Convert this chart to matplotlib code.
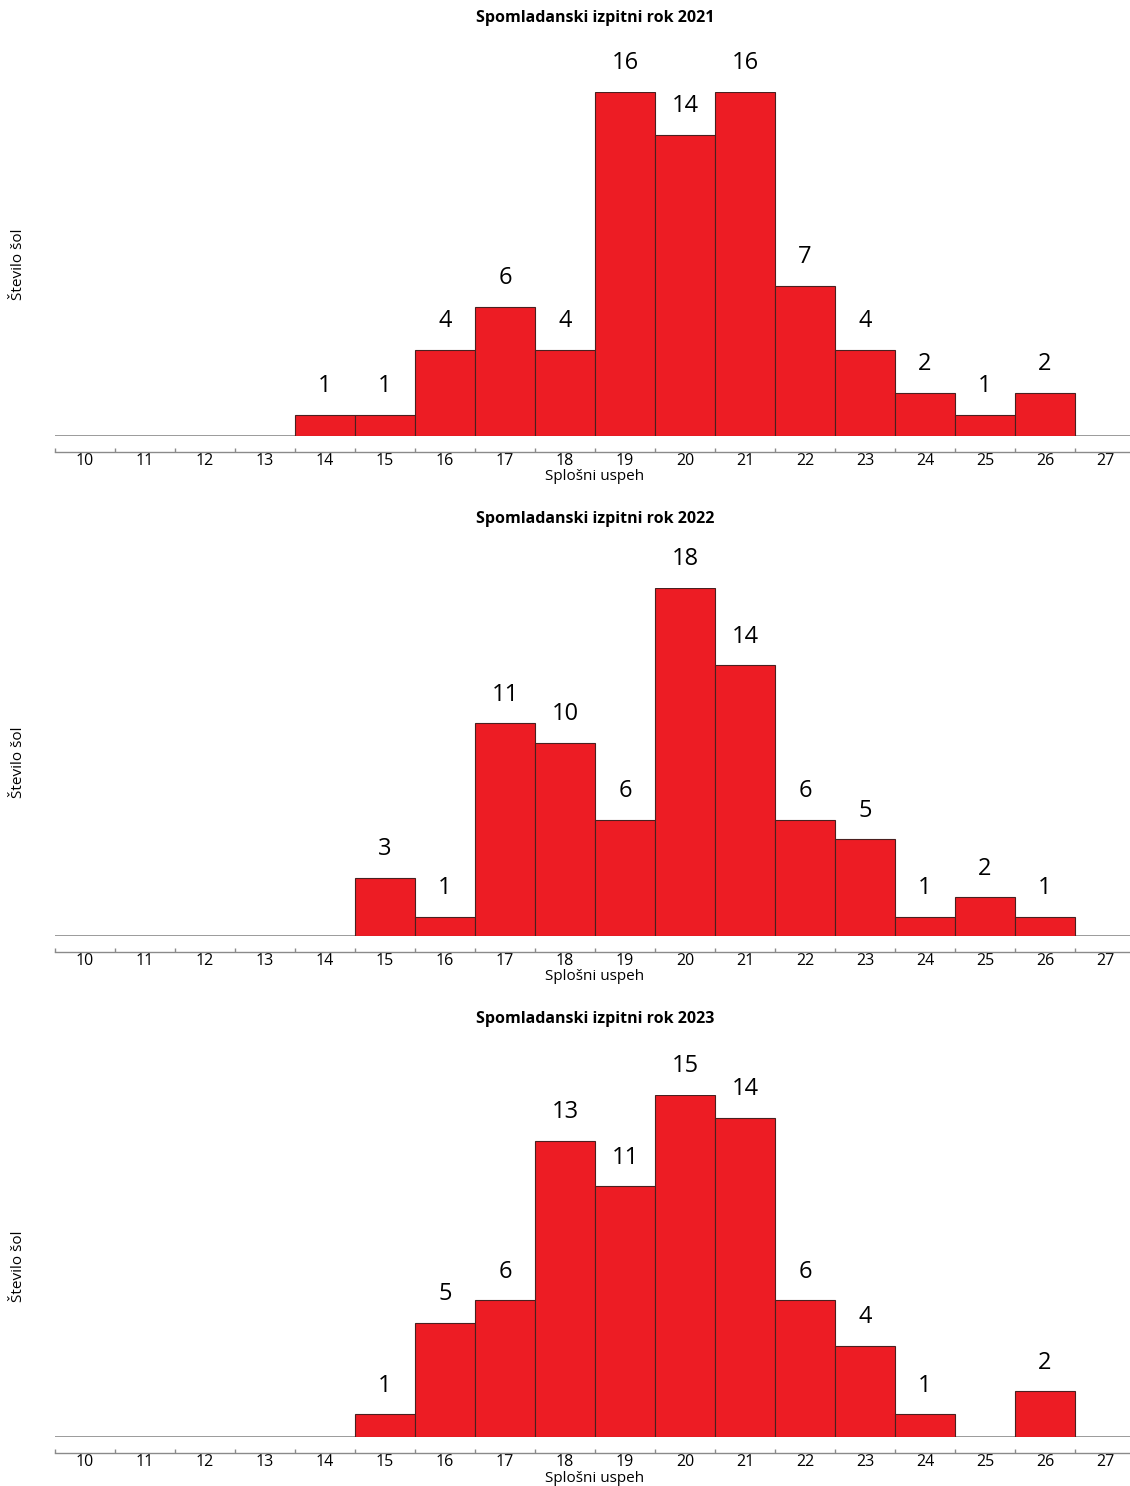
import matplotlib.pyplot as plt
import numpy as np

plt.rcParams["font.family"] = ["Open Sans", "DejaVu Sans"]

# grade categories (Splošni uspeh)
grades = list(range(10, 28))

years = ["2021", "2022", "2023"]
counts_2021 = [0, 0, 0, 0, 1, 1, 4, 6, 4, 16, 14, 16, 7, 4, 2, 1, 2, 0]
counts_2022 = [0, 0, 0, 0, 0, 3, 1, 11, 10, 6, 18, 14, 6, 5, 1, 2, 1, 0]
counts_2023 = [0, 0, 0, 0, 0, 1, 5, 6, 13, 11, 15, 14, 6, 4, 1, 0, 2, 0]
all_counts = [counts_2021, counts_2022, counts_2023]

W, H = 1130, 1486
fig = plt.figure(figsize=(W / 100, H / 100), dpi=100)

# pixel layout of each panel: (baseline y, top y, title y)
panels = [(436, 92, 18), (936, 588, 519), (1437, 1095, 1019)]
left_px, right_px = 55, 1130
bar_red = "#ED1C24"
edge = "#4a2020"
grey = "#8a8a8a"

for year, counts, (base, top, ty) in zip(years, all_counts, panels):
    ax = fig.add_axes([left_px / W, 1 - base / H, (right_px - left_px) / W, (base - top) / H])
    x = np.array(grades)
    c = np.array(counts)
    mask = c > 0
    ax.bar(x[mask], c[mask], width=1.0, color=bar_red, edgecolor=edge, linewidth=0.8, zorder=3)
    for xi, ci in zip(x[mask], c[mask]):
        ax.annotate(str(ci), (xi, ci), xytext=(0, 12), textcoords="offset points",
                    ha="center", va="bottom", fontsize=17, clip_on=False)
    ax.set_xlim(9.5, 9.5 + (right_px - left_px) / 60)
    ax.set_ylim(0, max(counts))
    ax.axhline(0, color=grey, lw=1.2, zorder=2)

    for s in ["top", "left", "right"]:
        ax.spines[s].set_visible(False)
    ax.spines["bottom"].set_position(("outward", 11.5))
    ax.spines["bottom"].set_color(grey)
    ax.spines["bottom"].set_linewidth(1.0)
    ax.set_yticks([])
    ax.set_xticks(grades)
    ax.set_xticklabels([str(g) for g in grades])
    ax.set_xticks(np.arange(9.5, 27.0, 1.0), minor=True)
    ax.tick_params(axis="x", which="major", length=0, pad=0.5, labelsize=11.5)
    ax.tick_params(axis="x", which="minor", direction="in", length=3, width=1, color=grey)

    fig.text(0.5 * (left_px + 1135) / W, 1 - ty / H, "Spomladanski izpitni rok " + year,
             ha="center", va="center", fontsize=11.5, fontweight="bold")
    fig.text(595 / W, 1 - (base + 41) / H, "Splošni uspeh", ha="center", va="center", fontsize=11)
    fig.text(18 / W, 1 - (base + top) / 2 / H, "Število šol", ha="center", va="center",
             rotation=90, fontsize=11)

fig.savefig("out.png", dpi=100)
